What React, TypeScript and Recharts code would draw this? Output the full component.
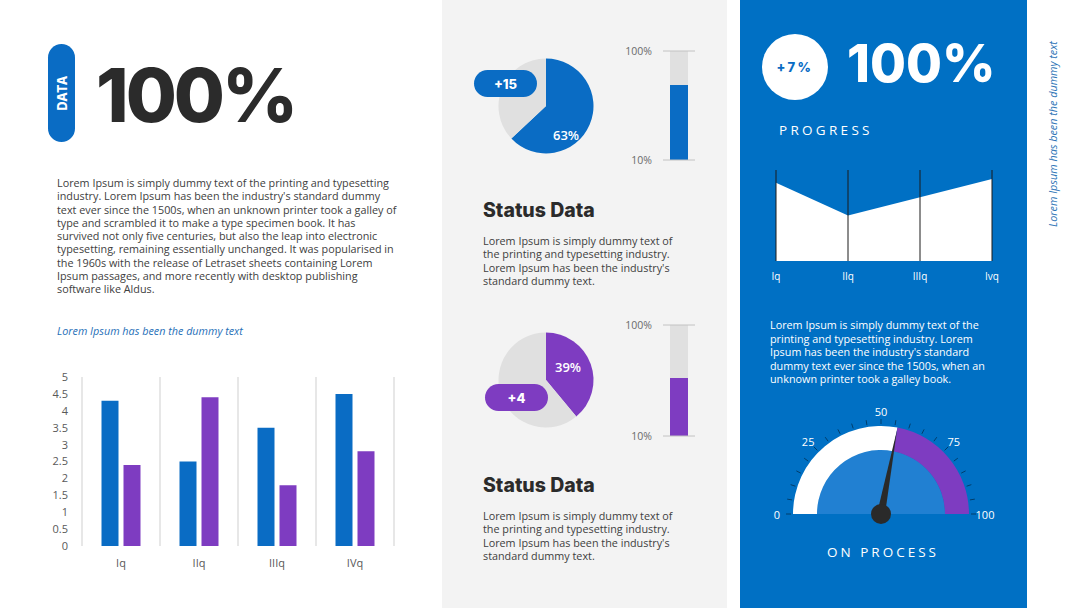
import { Area, AreaChart, Bar, BarChart, CartesianGrid, Cell, Pie, PieChart, ReferenceLine, XAxis, YAxis } from "recharts";

const quarters = ["Iq", "IIq", "IIIq", "IVq"];
const seriesOne = [4.3, 2.5, 3.5, 4.5];
const seriesTwo = [2.4, 4.4, 1.8, 2.8];
const yTicks = [0, 0.5, 1, 1.5, 2, 2.5, 3, 3.5, 4, 4.5, 5];

const progressLabels = ["Iq", "IIq", "IIIq", "Ivq"];
const progressValues = [4.3, 2.5, 3.5, 4.5];

const statusShares = [63, 39];
const statusDeltas = ["+15", "+4"];
const levelValues = [72, 57];
const levelTicks = [10, 100];

const gaugeValue = 56;
const gaugeLabels = [0, 25, 50, 75, 100];

const BLUE = "#0a6cc4";
const PURPLE = "#7e3cc1";
const GRAY = "#e0e0e0";
const PANEL = "#0070c4";
const BODY = '"Open Sans", sans-serif';
const HEAD = "Inter, sans-serif";
const NO_MARGIN = { top: 0, right: 0, bottom: 0, left: 0 };

const abs = (left: number, top: number, extra: any = {}) => ({ position: "absolute" as const, left, top, ...extra });

const leftText = [
  "Lorem Ipsum is simply dummy text of the printing and typesetting",
  "industry. Lorem Ipsum has been the industry's standard dummy",
  "text ever since the 1500s, when an unknown printer took a galley of",
  "type and scrambled it to make a type specimen book. It has",
  "survived not only five centuries, but also the leap into electronic",
  "typesetting, remaining essentially unchanged. It was popularised in",
  "the 1960s with the release of Letraset sheets containing Lorem",
  "Ipsum passages, and more recently with desktop publishing",
  "software like Aldus.",
];
const statusText = [
  "Lorem Ipsum is simply dummy text of",
  "the printing and typesetting industry.",
  "Lorem Ipsum has been the industry's",
  "standard dummy text.",
];
const blueText = [
  "Lorem Ipsum is simply dummy text of the",
  "printing and typesetting industry. Lorem",
  "Ipsum has been the industry's standard",
  "dummy text ever since the 1500s, when an",
  "unknown printer took a galley book.",
];

function Lines({ lines, left, top, color, size = 10.8, lh = 13.3 }: any) {
  return (
    <div style={abs(left, top, { fontFamily: BODY, fontSize: size, lineHeight: `${lh}px`, color, whiteSpace: "nowrap" })}>
      {lines.map((l: string, i: number) => (
        <div key={i}>{l}</div>
      ))}
    </div>
  );
}

function Pill({ left, top, width, color, text }: any) {
  return (
    <div style={abs(left, top, { width, height: 27, borderRadius: 14, background: color, color: "#fff", fontFamily: HEAD, fontWeight: 800, fontSize: 13, display: "flex", alignItems: "center", justifyContent: "center" })}>
      {text}
    </div>
  );
}

function StatusPie({ share, color, cy }: { share: number; color: string; cy: number }) {
  const data = [
    { name: "done", value: share },
    { name: "rest", value: 100 - share },
  ];
  return (
    <div style={abs(486, cy - 60)}>
      <PieChart width={120} height={120} margin={NO_MARGIN}>
        <Pie data={data} dataKey="value" cx={60} cy={60} outerRadius={47.5} startAngle={90} endAngle={-270} stroke="none" isAnimationActive={false}>
          <Cell fill={color} />
          <Cell fill={GRAY} />
        </Pie>
      </PieChart>
    </div>
  );
}

function Level({ value, color, top, bottom }: { value: number; color: string; top: number; bottom: number }) {
  const data = [{ name: "level", value }];
  return (
    <div style={abs(600, top - 10)}>
      <BarChart width={100} height={bottom - top + 20} data={data} margin={{ top: 10, right: 5, bottom: 10, left: 0 }}>
        <XAxis dataKey="name" hide />
        <YAxis width={63} domain={[10, 100]} ticks={levelTicks} tickFormatter={(v) => `${v}%`} axisLine={false} tickLine={false} tickMargin={5} tick={{ fontSize: 10.5, fill: "#6a6a6a", fontFamily: BODY }} />
        <Bar dataKey="value" fill={color} barSize={18} background={{ fill: GRAY }} isAnimationActive={false} />
        <ReferenceLine y={100} stroke="#c2c2c2" />
        <ReferenceLine y={10} stroke="#c2c2c2" />
      </BarChart>
    </div>
  );
}

function Gauge() {
  const ring = [
    { name: "done", value: gaugeValue },
    { name: "rest", value: 100 - gaugeValue },
  ];
  const cx = 101;
  const cy = 104;
  const pt = (v: number, r: number) => {
    const a = ((180 - v * 1.8) * Math.PI) / 180;
    return [cx + r * Math.cos(a), cy - r * Math.sin(a)];
  };
  const ticks = Array.from({ length: 21 }, (_, i) => i * 5);
  const tip = pt(gaugeValue, 86);
  const a = ((180 - gaugeValue * 1.8) * Math.PI) / 180;
  const bx = 4 * Math.sin(a);
  const by = 4 * Math.cos(a);
  return (
    <div style={abs(780, 410)}>
      <PieChart width={200} height={120} margin={NO_MARGIN}>
        <Pie data={[{ name: "core", value: 1 }]} dataKey="value" cx={cx} cy={cy} innerRadius={0} outerRadius={64} startAngle={180} endAngle={0} fill="#2180d2" stroke="none" isAnimationActive={false} />
        <Pie data={ring} dataKey="value" cx={cx} cy={cy} innerRadius={64} outerRadius={88} startAngle={180} endAngle={0} stroke="none" isAnimationActive={false}>
          <Cell fill="#ffffff" />
          <Cell fill={PURPLE} />
        </Pie>
      </PieChart>
      <svg width={200} height={120} style={{ position: "absolute", left: 0, top: 0, overflow: "visible" }}>
        {ticks.map((t) => {
          const [x1, y1] = pt(t, 90);
          const [x2, y2] = pt(t, 95);
          return <line key={t} x1={x1} y1={y1} x2={x2} y2={y2} stroke="rgba(0,0,0,0.45)" strokeWidth={1} />;
        })}
        {gaugeLabels.map((t) => {
          const [x, y] = pt(t, t === 0 || t === 100 ? 104 : 103);
          return (
            <text key={t} x={x} y={y} textAnchor="middle" dominantBaseline="central" fill="#fff" fontSize={11} fontFamily={BODY}>
              {t}
            </text>
          );
        })}
        <polygon points={`${cx - bx},${cy - by} ${cx + bx},${cy + by} ${tip[0]},${tip[1]}`} fill="#2a2a2a" />
        <circle cx={cx} cy={cy} r={10} fill="#2a2a2a" />
      </svg>
    </div>
  );
}

export default function App() {
  const barData = quarters.map((q, i) => ({ name: q, one: seriesOne[i], two: seriesTwo[i] }));
  const progressData = progressLabels.map((q, i) => ({ name: q, value: progressValues[i] }));

  return (
    <div style={{ position: "absolute", left: 0, top: 0, width: 1080, height: 608, background: "#fff", overflow: "hidden", fontFamily: BODY }}>
      <div style={abs(442, 0, { width: 285, height: 608, background: "#f3f3f3" })} />
      <div style={abs(740, 0, { width: 287, height: 608, background: PANEL })} />

      {/* left column */}
      <div style={abs(48, 44, { width: 27, height: 98, borderRadius: 14, background: BLUE })} />
      <div style={abs(62, 93, { transform: "translate(-50%,-50%) rotate(-90deg)", color: "#fff", fontFamily: HEAD, fontWeight: 800, fontSize: 12.5, letterSpacing: 0.3 })}>DATA</div>
      <div style={abs(96, 58, { fontFamily: HEAD, fontWeight: 800, fontSize: 74, lineHeight: "74px", color: "#2b2b2b", letterSpacing: -3 })}>100%</div>
      <Lines lines={leftText} left={57} top={176} color="#404040" />
      <div style={abs(57, 323, { fontSize: 10.8, fontStyle: "italic", color: "#1f6fb8" })}>Lorem Ipsum has been the dummy text</div>

      <div style={abs(40, 368)}>
        <BarChart width={370} height={208} data={barData} margin={{ top: 9, right: 16, bottom: 0, left: 0 }} barGap={5} barCategoryGap="25%">
          <CartesianGrid
            horizontal={false}
            stroke="#cfcfcf"
            verticalCoordinatesGenerator={({ offset }: any) => [0, 1, 2, 3, 4].map((i) => offset.left + (i * offset.width) / 4)}
          />
          <XAxis dataKey="name" axisLine={false} tickLine={false} height={30} tickMargin={7} tick={{ fontSize: 11, fill: "#595959", fontFamily: BODY }} />
          <YAxis width={42} domain={[0, 5]} ticks={yTicks} interval={0} axisLine={false} tickLine={false} tickMargin={8} tick={{ fontSize: 11, fill: "#595959", fontFamily: BODY }} />
          <Bar dataKey="one" fill={BLUE} isAnimationActive={false} />
          <Bar dataKey="two" fill={PURPLE} isAnimationActive={false} />
        </BarChart>
      </div>

      {/* middle column */}
      <StatusPie share={statusShares[0]} color={BLUE} cy={106} />
      <div style={abs(566, 135, { transform: "translate(-50%,-50%)", color: "#fff", fontSize: 13, fontWeight: 600 })}>{statusShares[0]}%</div>
      <Pill left={474} top={70} width={63} color={BLUE} text={statusDeltas[0]} />
      <Level value={levelValues[0]} color={BLUE} top={51} bottom={160} />
      <div style={abs(483, 198, { fontFamily: HEAD, fontWeight: 800, fontSize: 19.5, color: "#2b2b2b" })}>Status Data</div>
      <Lines lines={statusText} left={483} top={234} color="#404040" />

      <StatusPie share={statusShares[1]} color={PURPLE} cy={380} />
      <div style={abs(568, 367, { transform: "translate(-50%,-50%)", color: "#fff", fontSize: 13, fontWeight: 600 })}>{statusShares[1]}%</div>
      <Pill left={485} top={384} width={63} color={PURPLE} text={statusDeltas[1]} />
      <Level value={levelValues[1]} color={PURPLE} top={325} bottom={436} />
      <div style={abs(483, 473, { fontFamily: HEAD, fontWeight: 800, fontSize: 19.5, color: "#2b2b2b" })}>Status Data</div>
      <Lines lines={statusText} left={483} top={509} color="#404040" />

      {/* blue column */}
      <div style={abs(762, 34, { width: 66, height: 66, borderRadius: 33, background: "#fff", display: "flex", alignItems: "center", justifyContent: "center", color: BLUE, fontFamily: HEAD, fontWeight: 800, fontSize: 13, letterSpacing: 2.5 })}>+7%</div>
      <div style={abs(847, 38, { fontFamily: HEAD, fontWeight: 800, fontSize: 52, lineHeight: "52px", color: "#fff" })}>100%</div>
      <div style={abs(779, 121, { color: "#fff", fontSize: 13.5, letterSpacing: 3.3 })}>PROGRESS</div>

      <div style={abs(760, 160)}>
        <AreaChart width={250} height={126} data={progressData} margin={{ top: 10, right: 18, bottom: 0, left: 16 }}>
          <XAxis dataKey="name" axisLine={false} tickLine={false} height={25} tickMargin={6} tick={{ fontSize: 10, fill: "#fff", fontFamily: BODY }} />
          <YAxis hide domain={[0, 5]} />
          <Area type="linear" dataKey="value" fill="#ffffff" fillOpacity={1} stroke="none" isAnimationActive={false} />
          {progressLabels.map((q) => (
            <ReferenceLine key={q} x={q} stroke="#1b1b1b" />
          ))}
        </AreaChart>
      </div>

      <Lines lines={blueText} left={770} top={318} color="#fff" lh={13.5} />
      <Gauge />
      <div style={abs(883, 552, { transform: "translate(-50%,-50%)", color: "#fff", fontSize: 13.5, letterSpacing: 3, whiteSpace: "nowrap" })}>ON PROCESS</div>

      <div style={abs(1052, 134, { transform: "translate(-50%,-50%) rotate(-90deg)", color: "#2e75b6", fontSize: 10.8, fontStyle: "italic", whiteSpace: "nowrap" })}>Lorem Ipsum has been the dummy text</div>
    </div>
  );
}
